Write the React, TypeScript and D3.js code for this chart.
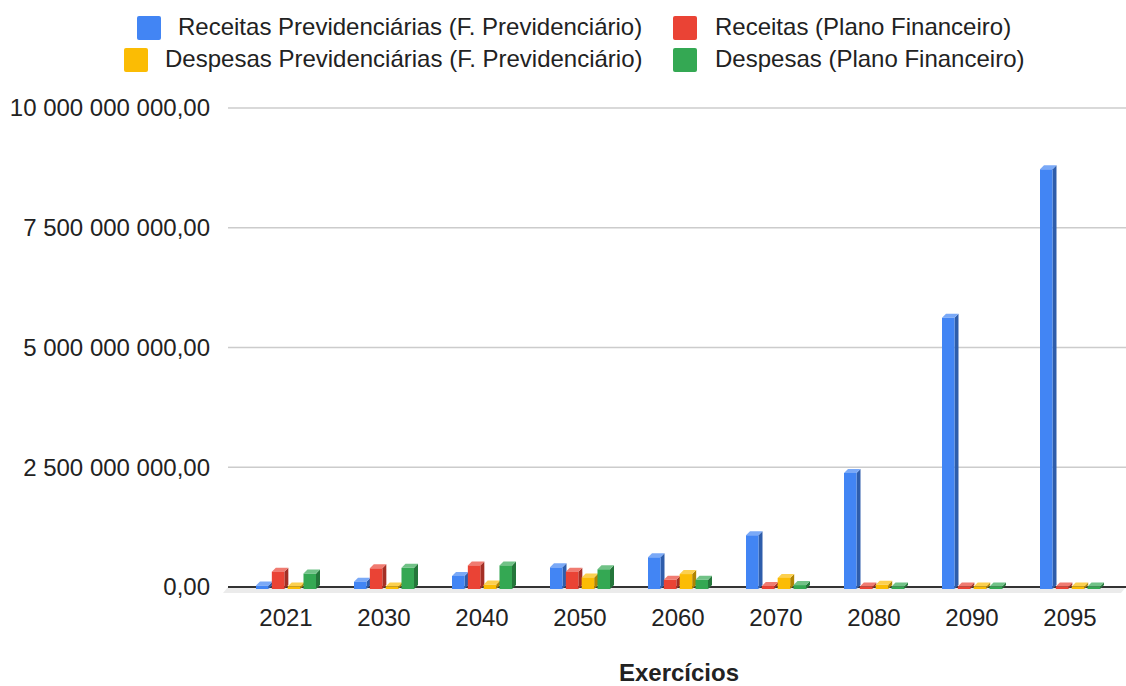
import React from "react";
import * as d3 from "d3";

const years = ["2021", "2030", "2040", "2050", "2060", "2070", "2080", "2090", "2095"];
const receitasPrev = [30000000, 110000000, 230000000, 410000000, 620000000, 1080000000, 2380000000, 5620000000, 8720000000];
const receitasFin = [320000000, 390000000, 450000000, 320000000, 150000000, 20000000, 10000000, 10000000, 10000000];
const despesasPrev = [10000000, 10000000, 50000000, 200000000, 270000000, 190000000, 45000000, 10000000, 10000000];
const despesasFin = [280000000, 400000000, 450000000, 370000000, 150000000, 40000000, 10000000, 10000000, 10000000];
const yTicks = [0, 2500000000, 5000000000, 7500000000, 10000000000];

const seriesNames = [
  "Receitas Previdenciárias (F. Previdenciário)",
  "Receitas (Plano Financeiro)",
  "Despesas Previdenciárias (F. Previdenciário)",
  "Despesas (Plano Financeiro)",
];

const palette = [
  { front: "#4285f4", side: "#2e5dab", top: "#7aa9f7" },
  { front: "#ea4335", side: "#a32f25", top: "#f07b71" },
  { front: "#fbbc04", side: "#b08403", top: "#fcd04f" },
  { front: "#34a853", side: "#24763a", top: "#71c287" },
];

const W = 1126;
const H = 686;
const plot = { left: 228, right: 1126, top: 108, bottom: 587 };
const depth = 4;
const font = "Arial, 'Liberation Sans', sans-serif";

const locale = d3.formatLocale({ decimal: ",", thousands: " ", grouping: [3], currency: ["", ""] });
const fmt = locale.format(",.2f");

export default function App() {
  const series = [receitasPrev, receitasFin, despesasPrev, despesasFin];

  const x0 = d3.scaleBand().domain(years).range([237, 1119]).padding(0);
  const x1 = d3.scaleBand<number>().domain([0, 1, 2, 3])
    .range([x0.bandwidth() / 2 - 30, x0.bandwidth() / 2 + 30])
    .paddingInner(0.21);
  const y = d3.scaleLinear().domain([0, 10000000000]).range([plot.bottom, plot.top]);
  const base = plot.bottom + 2;
  const bw = x1.bandwidth();

  // legend layout: two rows, second column aligned
  const legend = [
    { i: 0, sx: 137, sy: 16, tx: 178, ty: 35 },
    { i: 1, sx: 673, sy: 16, tx: 715, ty: 35 },
    { i: 2, sx: 124, sy: 48, tx: 165, ty: 67 },
    { i: 3, sx: 673, sy: 48, tx: 715, ty: 67 },
  ];

  return (
    <svg width={W} height={H} style={{ position: "absolute", left: 0, top: 0, background: "#fff" }}
      fontFamily={font}>
      {legend.map((l) => (
        <g key={l.i}>
          <rect x={l.sx} y={l.sy} width={24} height={24} rx={2} fill={palette[l.i].front} />
          <text x={l.tx} y={l.ty} fontSize={24} fill="#222">{seriesNames[l.i]}</text>
        </g>
      ))}

      {yTicks.map((t) => (
        <g key={t}>
          {t > 0 && (
            <line x1={plot.left} x2={plot.right} y1={y(t)} y2={y(t)} stroke="#cccccc" strokeWidth={1.5} />
          )}
          <text x={210} y={y(t)} dy="0.35em" textAnchor="end" fontSize={24} fill="#222">{fmt(t)}</text>
        </g>
      ))}

      <polygon
        points={`${plot.left},${plot.bottom} ${plot.right},${plot.bottom} ${plot.right - 5},${plot.bottom + 6} ${plot.left - 5},${plot.bottom + 6}`}
        fill="#ebebeb"
      />
      <line x1={plot.left} x2={plot.right} y1={plot.bottom} y2={plot.bottom} stroke="#333" strokeWidth={2} />

      {years.map((yr, j) => (
        <g key={yr} transform={`translate(${x0(yr)},0)`}>
          {series.map((s, i) => {
            const bx = x1(i) as number;
            const yt = Math.min(y(s[j]), base - 0.5);
            const c = palette[i];
            return (
              <g key={i}>
                <polygon
                  points={`${bx + bw},${yt} ${bx + bw + depth},${yt - depth} ${bx + bw + depth},${base - depth} ${bx + bw},${base}`}
                  fill={c.side}
                />
                <polygon
                  points={`${bx},${yt} ${bx + depth},${yt - depth} ${bx + bw + depth},${yt - depth} ${bx + bw},${yt}`}
                  fill={c.top}
                />
                <rect x={bx} y={yt} width={bw} height={base - yt} fill={c.front} />
              </g>
            );
          })}
          <text x={x0.bandwidth() / 2} y={626} textAnchor="middle" fontSize={24} fill="#222">{yr}</text>
        </g>
      ))}

      <text x={679} y={681} textAnchor="middle" fontSize={24} fontWeight="bold" fill="#222">Exercícios</text>
    </svg>
  );
}
